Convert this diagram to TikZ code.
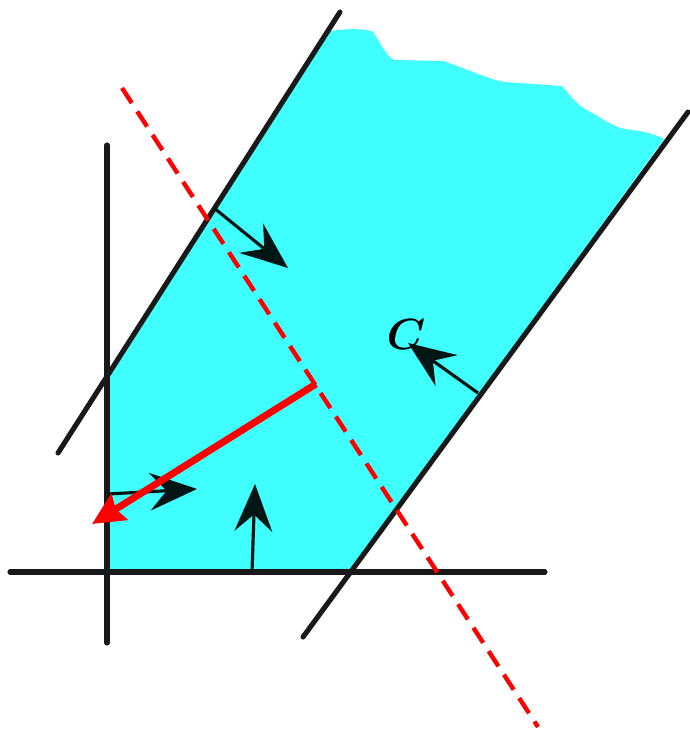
\documentclass[tikz,border=0pt]{standalone}
\usepackage{amsmath}
\usetikzlibrary{arrows.meta}
\definecolor{fluid}{HTML}{3FFFFF}
\definecolor{tipdark}{HTML}{021616}
\begin{document}
\begin{tikzpicture}[x=0.2mm,y=-0.2mm,>=Latex,
	wall/.style={line width=2.9pt,black!90,line cap=round},
	flux/.style={line width=1.8pt,tipdark,-{Stealth[length=9.5mm,width=7.6mm,inset=3.4mm,line width=0pt]}},
	normal/.style={line width=4pt,red,-{Stealth[length=6.4mm,width=6mm,inset=0.8mm]}}]
		
		\useasboundingbox (0,0) rectangle (690,731);
		
		%----------------------------------------
		% Corner and channel walls
		%----------------------------------------
		\coordinate (O) at (107,572);
		\coordinate (LA) at (58,453);
		\coordinate (LB) at (340,12);
		\coordinate (RA) at (303,637);
		\coordinate (RB) at (688,112);
		
		%----------------------------------------
		% Fluid region
		%----------------------------------------
		\fill[fluid] (O) -- (107,378) -- (330,31)
		.. controls (350,28) and (368,29) .. (373,32)
		.. controls (380,42) and (386,56) .. (394,60)
		-- (443,61)
		.. controls (470,70) and (490,80) .. (505,82)
		-- (562,86)
		.. controls (570,95) and (575,103) .. (585,109)
		.. controls (600,117) and (615,128) .. (625,129)
		.. controls (640,131) and (650,132) .. (664,139)
		-- (350,572) -- cycle;
		
		%----------------------------------------
		% Axes
		%----------------------------------------
		\draw[wall] (10,572) -- (545,572);
		\draw[wall] (107,145) -- (107,643);
		
		%----------------------------------------
		% Walls
		%----------------------------------------
		\draw[wall] (LA) -- (LB);
		\draw[wall] (RA) -- (RB);
		
		%----------------------------------------
		% Dashed line
		%----------------------------------------
		\draw[red,line width=2.5pt,dash pattern=on 3.6mm off 2mm] (122,88) -- (538,727);
		
		%----------------------------------------
		% Flux arrows
		%----------------------------------------
		\coordinate (F1s) at (214,208);
		\coordinate (F1e) at (288,268);
		\coordinate (F2s) at (478,393);
		\coordinate (F2e) at (408,343);
		\coordinate (F3s) at (108,494);
		\coordinate (F3e) at (197,489);
		\coordinate (F4s) at (252,572);
		\coordinate (F4e) at (255,484);
		
		\draw[flux] (F1s) -- (F1e);
		\draw[flux] (F2s) -- (F2e);
		\draw[flux] (F3s) -- (F3e);
		\draw[flux] (F4s) -- (F4e);
		
		%----------------------------------------
		% Normal vector
		%----------------------------------------
		\coordinate (N) at (316,384);
		\coordinate (Ne) at (92,524);
		\draw[normal] (N) -- (Ne);
		
		\node[font=\fontsize{28}{32}\selectfont] (labC) at (406,334) {$\boldsymbol{C}$};
		
	\end{tikzpicture}
\end{document}
